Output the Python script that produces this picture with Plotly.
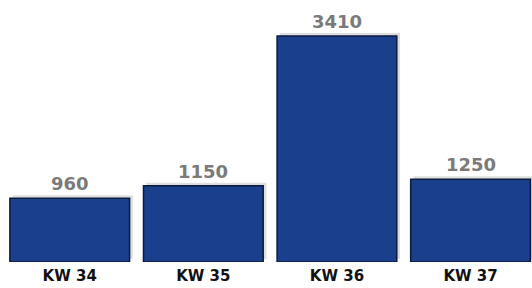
import plotly.graph_objects as go

categories = ["KW 34", "KW 35", "KW 36", "KW 37"]
values = [960, 1150, 3410, 1250]
value_labels = ["960", "1150", "3410", "1250"]

W, H = 532, 288
mb = 26
plot_h = H - mb
x_range = [-0.522, 3.46]
y_max = 3953
px_x = (x_range[1] - x_range[0]) / W
px_y = y_max / plot_h
sx, sy = 3, 3

fig = go.Figure()

# soft shadow (drawn on the base axes, shifted up-right)
fig.add_trace(go.Bar(
    x=categories, y=values, xaxis="x", yaxis="y",
    marker=dict(color="rgba(0,0,0,0.13)", line=dict(width=0)),
    width=0.9, hoverinfo="skip", showlegend=False,
))

# main bars
fig.add_trace(go.Bar(
    x=categories, y=values, xaxis="x2", yaxis="y2",
    marker=dict(color="#1a3f8c", line=dict(color="#0c1a3c", width=1.5)),
    width=0.896, showlegend=False,
))

for c, v, t in zip(categories, values, value_labels):
    fig.add_annotation(
        x=c, y=v, xref="x2", yref="y2", text=t, showarrow=False,
        yanchor="bottom", yshift=2,
        font=dict(family="Verdana, DejaVu Sans", size=18, color="#7a7a7a", weight="bold"),
    )

fig.update_layout(
    width=W, height=H,
    margin=dict(l=0, r=0, t=0, b=mb),
    paper_bgcolor="white", plot_bgcolor="white",
    xaxis=dict(range=[x_range[0] - sx * px_x, x_range[1] - sx * px_x],
               showticklabels=False, showgrid=False, zeroline=False, showline=False),
    yaxis=dict(range=[-sy * px_y, y_max - sy * px_y], visible=False),
    xaxis2=dict(overlaying="x", side="bottom", range=x_range,
                showgrid=False, zeroline=False, showline=False, ticks="",
                tickfont=dict(family="Verdana, DejaVu Sans", size=15, color="#111111", weight="bold"),
                ticklabelstandoff=3),
    yaxis2=dict(overlaying="y", range=[0, y_max], visible=False),
)

fig.write_html(
    "out.html",
    config={"displayModeBar": False},
    post_script="document.body.style.margin='0';document.body.style.overflow='hidden';",
)
